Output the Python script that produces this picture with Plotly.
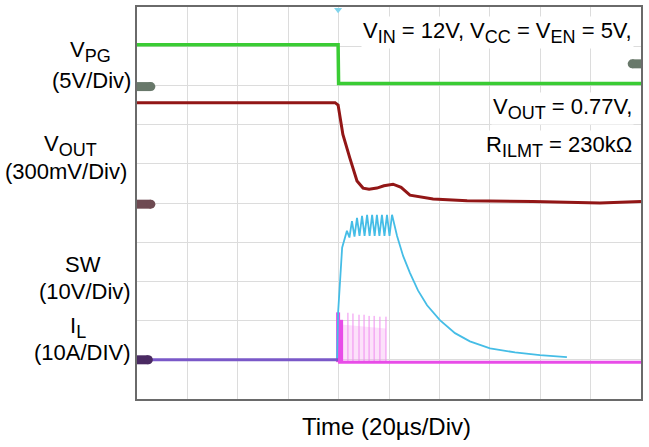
import plotly.graph_objects as go

# ---- data (time in µs, 20 µs/div; amplitude in screen divisions) ----
vpg_t = [0, 79.8, 80.0, 200]
vpg_v = [9.04, 9.04, 8.05, 8.05]

vout_t = [0, 78.6, 79.8, 81.7, 84.5, 87.3, 89.7, 92.1, 95.2, 98.0, 101.6, 104.8,
          108.3, 117.5, 131.0, 157.1, 183.7, 200]
vout_v = [7.56, 7.56, 7.50, 6.75, 6.14, 5.56, 5.38, 5.35, 5.38, 5.44, 5.48, 5.40,
          5.20, 5.10, 5.06, 5.04, 5.00, 5.04]

sw_t = [0, 79.4, 79.8, 81.4, 83.3, 84.3, 85.3, 86.3, 87.3, 88.3, 89.3, 90.3, 91.3,
        92.3, 93.3, 94.3, 95.2, 96.2, 97.2, 98.2, 99.2, 100.2, 101.2, 103.2, 105.6,
        108.3, 111.5, 115.1, 120.2, 126.2, 132.1, 140.1, 150.0, 159.9, 170.6]
sw_v = [1.0, 1.0, 2.2, 3.86, 4.29, 4.12, 4.54, 4.14, 4.62, 4.16, 4.67, 4.16, 4.70,
        4.16, 4.70, 4.16, 4.70, 4.16, 4.70, 4.16, 4.70, 4.16, 4.70, 4.16, 3.65,
        3.22, 2.77, 2.39, 2.01, 1.68, 1.47, 1.29, 1.19, 1.12, 1.07]

il_pre_t = [0, 79.8]
il_pre_v = [1.0, 1.0]
il_post_t = [79.8, 200]
il_post_v = [0.94, 0.94]
il_spike_t = [79.8, 81.0, 83.7, 85.7, 88.1, 90.1, 92.1, 94.1, 96.4, 98.8]
il_spike_v = [2.21, 2.02, 2.2, 2.18, 2.15, 2.15, 2.12, 2.12, 2.1, 2.1]
il_base_after = 0.94

# ground-level reference markers (x span in µs, level in div)
gnd_vpg = ([0, 5.5], 7.97)
gnd_vpg_r = ([196.5, 200], 8.55)
gnd_vout = ([0, 5.5], 4.97)
gnd_il = ([0, 4.5], 1.0)
trig_t = 79.8

FONT = "Liberation Sans, Arial, sans-serif"

fig = go.Figure()

# pink shading under inductor current spikes
fig.add_trace(go.Scatter(
    x=[il_spike_t[0], il_spike_t[0], il_spike_t[-1], il_spike_t[-1]],
    y=[il_base_after, il_spike_v[0] - 0.3, il_spike_v[-1] - 0.3, il_base_after],
    fill="toself", fillcolor="rgba(245,170,240,0.35)", line=dict(width=0),
    mode="lines", hoverinfo="skip", showlegend=False))

# IL spikes
sx, sy = [], []
for t, v in zip(il_spike_t, il_spike_v):
    sx += [t, t, None]
    sy += [il_base_after, v, None]
fig.add_trace(go.Scatter(x=sx[:6], y=sy[:6], mode="lines",
                         line=dict(color="#e84ce8", width=4), showlegend=False))
fig.add_trace(go.Scatter(x=sx[6:], y=sy[6:], mode="lines",
                         line=dict(color="#f08ef0", width=1), showlegend=False))

# SW
fig.add_trace(go.Scatter(x=sw_t, y=sw_v, mode="lines",
                         line=dict(color="#45bde6", width=1.8), showlegend=False))

# IL baselines
fig.add_trace(go.Scatter(x=il_pre_t, y=il_pre_v, mode="lines",
                         line=dict(color="#7a58c8", width=3), showlegend=False))
fig.add_trace(go.Scatter(x=il_post_t, y=il_post_v, mode="lines",
                         line=dict(color="#e84ce8", width=3), showlegend=False))

# VOUT
fig.add_trace(go.Scatter(x=vout_t, y=vout_v, mode="lines",
                         line=dict(color="#921616", width=3), showlegend=False))

# VPG
fig.add_trace(go.Scatter(x=vpg_t, y=vpg_v, mode="lines",
                         line=dict(color="#3acc34", width=3.5), showlegend=False))

# ground markers (rounded blobs)
for (xs, lvl), col in [(gnd_vpg, "#68786a"), (gnd_vpg_r, "#68786a"),
                       (gnd_vout, "#6e4a52"), (gnd_il, "#4a2a62")]:
    fig.add_trace(go.Scatter(x=xs, y=[lvl, lvl], mode="lines",
                             line=dict(color=col, width=9), showlegend=False))
    fig.add_trace(go.Scatter(x=[xs[1] if xs[0] == 0 else xs[0]], y=[lvl],
                             mode="markers",
                             marker=dict(symbol="circle", size=9, color=col),
                             showlegend=False))

# trigger marker
fig.add_trace(go.Scatter(x=[trig_t], y=[9.93], mode="markers",
                         marker=dict(symbol="triangle-down", size=7, color="#7fd4ec"),
                         cliponaxis=False, showlegend=False))

L, R, T, B = 137, 641, 5, 399


def px(x):
    return (x - L) / (R - L)


def py(y):
    return (B - y) / (B - T)


def sub(s, size=18):
    return f"<sub><span style='font-size:{size}px'>{s}</span></sub>"


ann = []


def label(text, x, y, size=22, xanchor="center", bg=None):
    d = dict(text=text, xref="paper", yref="paper", x=px(x), y=py(y),
             xanchor=xanchor, yanchor="middle", showarrow=False,
             font=dict(family=FONT, size=size, color="#000"))
    if bg:
        d["bgcolor"] = bg
        d["borderpad"] = 1
    ann.append(d)


label("V" + sub("PG"), 90, 50)
label("(5V/Div)", 91, 79)
label("V" + sub("OUT"), 70, 144)
label("(300mV/Div)", 66, 170)
label("SW", 83, 264)
label("(10V/Div)", 85, 291)
label("I" + sub("L"), 78, 327)
label("(10A/DIV)", 82, 352)
label("V" + sub("IN") + " = 12V, V" + sub("CC") + " = V" + sub("EN") + " = 5V,",
      634, 31, xanchor="right", bg="white")
label("V" + sub("OUT") + " = 0.77V,", 634, 107, xanchor="right", bg="white")
label("R" + sub("ILMT") + " = 230kΩ", 634, 145, xanchor="right", bg="white")
label("Time (20µs/Div)", 386, 427, size=24)

fig.update_layout(
    width=649, height=447,
    margin=dict(l=L, r=649 - R, t=T, b=447 - B),
    paper_bgcolor="white", plot_bgcolor="white",
    annotations=ann,
    xaxis=dict(range=[0, 200], dtick=20, showgrid=True, gridcolor="#dcdcdc",
               gridwidth=1, zeroline=False, showticklabels=False, ticks="",
               showline=True, mirror=True, linecolor="#6a6a6a", linewidth=2),
    yaxis=dict(range=[0, 10], dtick=1, showgrid=True, gridcolor="#dcdcdc",
               gridwidth=1, zeroline=False, showticklabels=False, ticks="",
               showline=True, mirror=True, linecolor="#6a6a6a", linewidth=2),
)

fig.write_html("out.html")
